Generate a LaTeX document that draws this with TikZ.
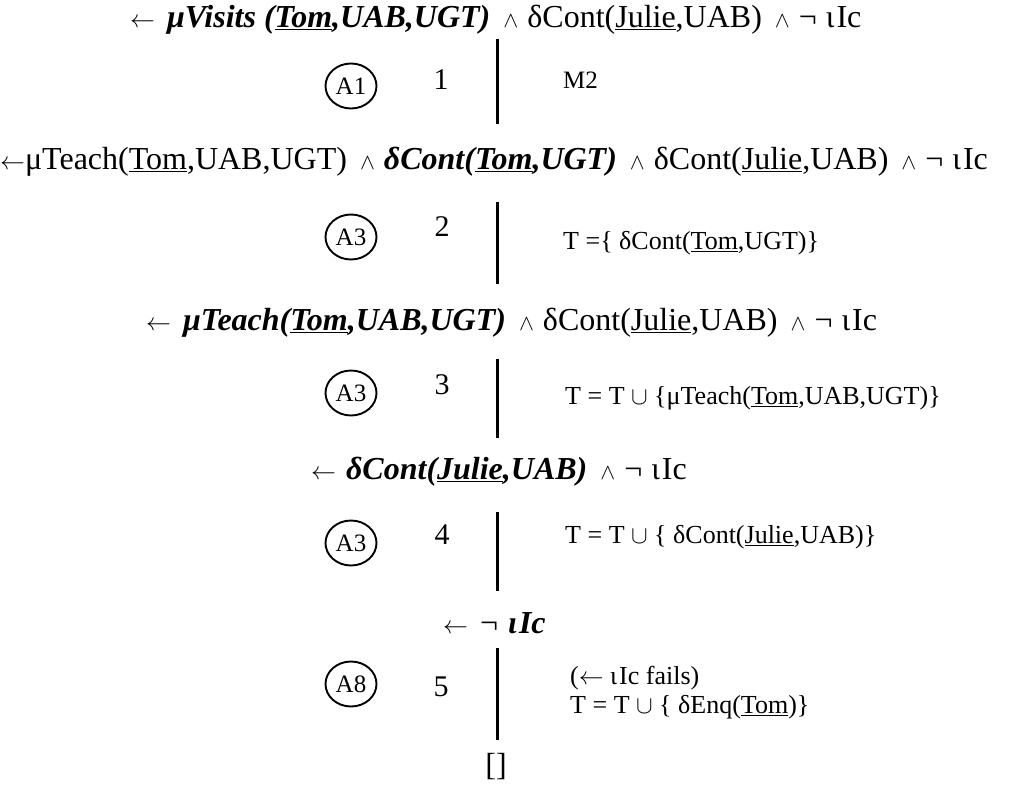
\documentclass[tikz,border=0pt]{standalone}
\usepackage{fontspec}
\setmainfont{Liberation Serif}
\usetikzlibrary{shapes.geometric}
\newcommand\bi[1]{\textbf{\textit{#1}}}
\newcommand\Arr{\(\leftarrow\)}
\newcommand\And{\hspace{13pt}\scalebox{0.9}{\(\wedge\)}\hspace{9pt}}
\newcommand\Not{¬\hspace{9pt}}
\newcommand\Io{ι\hspace{2pt}}
\begin{document}
\begin{tikzpicture}[x=1pt,y=-1pt,
  goal/.style={anchor=west,inner sep=0pt,font=\fontsize{32}{38}\selectfont},
  rule/.style={draw,ellipse,line width=1.9pt,inner sep=0pt,minimum width=51pt,minimum height=45pt,font=\fontsize{25}{30}\selectfont},
  num/.style={inner sep=0pt,font=\fontsize{30}{36}\selectfont},
  side/.style={anchor=west,inner sep=0pt,font=\fontsize{26}{31}\selectfont},
  spine/.style={line width=3pt}]
\useasboundingbox (0,0) rectangle (1024,792);
% goals
\node[goal] (g1) at (130,20) {\Arr\hspace{12pt}\bi{μVisits (\underline{Tom},UAB,UGT)}\And δCont(\underline{Julie},UAB)\And\Not \Io Ic};
\node[goal] (g2) at (0,162) {\Arr μTeach(\underline{Tom},UAB,UGT)\And\bi{δCont(\underline{Tom},UGT)}\And δCont(\underline{Julie},UAB)\And\Not \Io Ic};
\node[goal] (g3) at (146,323) {\Arr\hspace{12pt}\bi{μTeach(\underline{Tom},UAB,UGT)}\And δCont(\underline{Julie},UAB)\And\Not \Io Ic};
\node[goal] (g4) at (311,472) {\Arr\hspace{10pt}\bi{δCont(\underline{Julie},UAB)}\And\Not \Io Ic};
\node[goal] (g5) at (443,623) {\Arr\hspace{12pt}¬\hspace{10pt}\bi{\Io Ic}};
\node[goal,anchor=center,font=\fontsize{32}{38}\selectfont] (g6) at (496,767) {[]};
% rules
\node[rule] (c1) at (351,86) {A1};
\node[rule] (c2) at (351,237) {A3};
\node[rule] (c3) at (351,393) {A3};
\node[rule] (c4) at (351,543) {A3};
\node[rule] (c5) at (351,684) {A8};
% step numbers
\node[num] (n1) at (441,80) {1};
\node[num] (n2) at (442,227) {2};
\node[num] (n3) at (442,385) {3};
\node[num] (n4) at (442,535) {4};
\node[num] (n5) at (441,687) {5};
% side notes
\node[side,font=\fontsize{25}{30}\selectfont] (r1) at (563,80) {M2};
\node[side] (r2) at (563,243) {T =\{ δCont(\underline{Tom},UGT)\}};
\node[side] (r3) at (565,398) {T = T \(\cup\) \{μTeach(\underline{Tom},UAB,UGT)\}};
\node[side] (r4) at (565,537) {T = T \(\cup\) \{ δCont(\underline{Julie},UAB)\}};
\node[side] (r5a) at (570,678) {(\(\leftarrow\) \Io Ic fails)};
\node[side] (r5b) at (570,707) {T = T \(\cup\) \{ δEnq(\underline{Tom})\}};
% spine segments
\coordinate (s1t) at (497,39);  \coordinate (s1b) at (497,124);
\coordinate (s2t) at (497,202); \coordinate (s2b) at (497,284);
\coordinate (s3t) at (497,359); \coordinate (s3b) at (497,438);
\coordinate (s4t) at (497,512); \coordinate (s4b) at (497,591);
\coordinate (s5t) at (497,648); \coordinate (s5b) at (497,740);
\draw[spine] (s1t) -- (s1b);
\draw[spine] (s2t) -- (s2b);
\draw[spine] (s3t) -- (s3b);
\draw[spine] (s4t) -- (s4b);
\draw[spine] (s5t) -- (s5b);
\end{tikzpicture}
\end{document}
